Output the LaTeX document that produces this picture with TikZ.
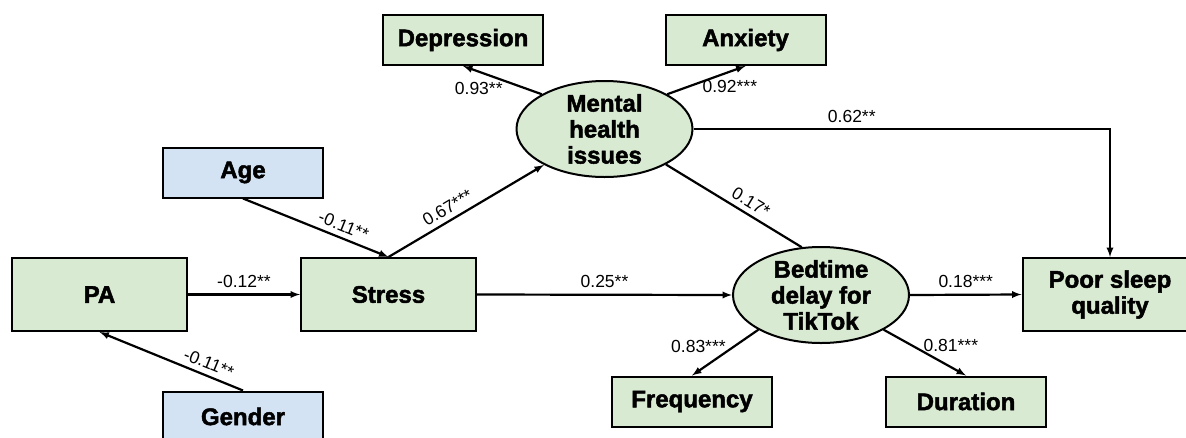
\documentclass[tikz,border=0pt]{standalone}
\usepackage{fontspec}
\setmainfont{Liberation Sans}[BoldFeatures={FakeBold=2}]
\usepackage{tikz}
\usetikzlibrary{arrows,shapes,positioning,calc}

\definecolor{boxgreen}{HTML}{D9EAD3}
\definecolor{boxblue}{HTML}{D3E3F3}

\begin{document}
\begin{tikzpicture}[x=1pt,y=-1pt,>=latex,
	box/.style={draw,line width=2pt,fill=boxgreen,inner sep=0pt,align=center,
		font=\fontsize{24}{26}\selectfont\bfseries},
	bigbox/.style={box,minimum width=175pt,minimum height=73pt},
	smallbox/.style={box,minimum width=160pt,minimum height=50pt},
	ctrl/.style={smallbox,fill=boxblue},
	latent/.style={box,ellipse,inner xsep=12pt,inner ysep=-3pt,minimum width=176pt,minimum height=96pt},
	link/.style={line width=2.2pt},
	lbl/.style={font=\fontsize{17.5}{20}\selectfont,inner sep=1pt}]
	\useasboundingbox (0,0) rectangle (1186,437);
	\clip (0,0) rectangle (1186,437);

	% observed and latent variables
	\node[bigbox]   (pa)     at (99.5,294.5) {PA};
	\node[bigbox]   (stress) at (388.5,294.5) {Stress};
	\node[ctrl]     (age)    at (243,172.5) {Age};
	\node[ctrl]     (gender) at (243,416.5) {Gender};
	\node[smallbox] (depr)   at (463,40) {Depression};
	\node[smallbox] (anx)    at (745.5,40) {Anxiety};
	\node[latent]   (mental) at (604.5,129) {Mental\\health\\issues};
	\node[latent]   (delay)  at (821,295) {Bedtime\\delay for\\TikTok};
	\node[bigbox]   (sleep)  at (1110,294.5) {Poor sleep\\quality};
	\node[smallbox] (freq)   at (692,401.5) {Frequency};
	\node[smallbox] (dur)    at (966,401.5) {Duration};

	% paths
	\draw[link,->] (pa.east) -- (stress.west) node[lbl,midway,above=5pt] {-0.12**};
	\draw[link,->] (age.south) -- (stress.north) node[lbl,pos=0.66,sloped,above=4pt] {-0.11**};
	\draw[link,<-] (pa.south) -- (gender.north) node[lbl,pos=0.73,sloped,above=4pt] {-0.11**};
	\draw[link,->] (stress.north) -- (mental) node[lbl,pos=0.42,sloped,above=4pt] {0.67***};
	\draw[link,->] (mental.151) -- (depr.south) node[lbl,pos=0.8,below=9pt] {0.93**};
	\draw[link,->] (mental.29) -- (anx.south) node[lbl,pos=0.8,below=7pt] {0.92***};
	\draw[link,->] (mental.east) -| (sleep.north) node[lbl,pos=0.19,above=4pt] {0.62**};
	\draw[link] (mental.-30) -- (delay.112) node[lbl,pos=0.58,sloped,above=4pt] {0.17*};
	\draw[link,->] (stress.east) -- (delay.west) node[lbl,midway,above=5pt] {0.25**};
	\draw[link,->] (delay.east) -- (sleep.west) node[lbl,midway,above=5pt] {0.18***};
	\draw[link,->] (delay.209) -- (freq.north) node[lbl,pos=0.37,left=6pt] {0.83***};
	\draw[link,->] (delay.331) -- (dur.north) node[lbl,pos=0.35,right=9pt] {0.81***};
\end{tikzpicture}
\end{document}
